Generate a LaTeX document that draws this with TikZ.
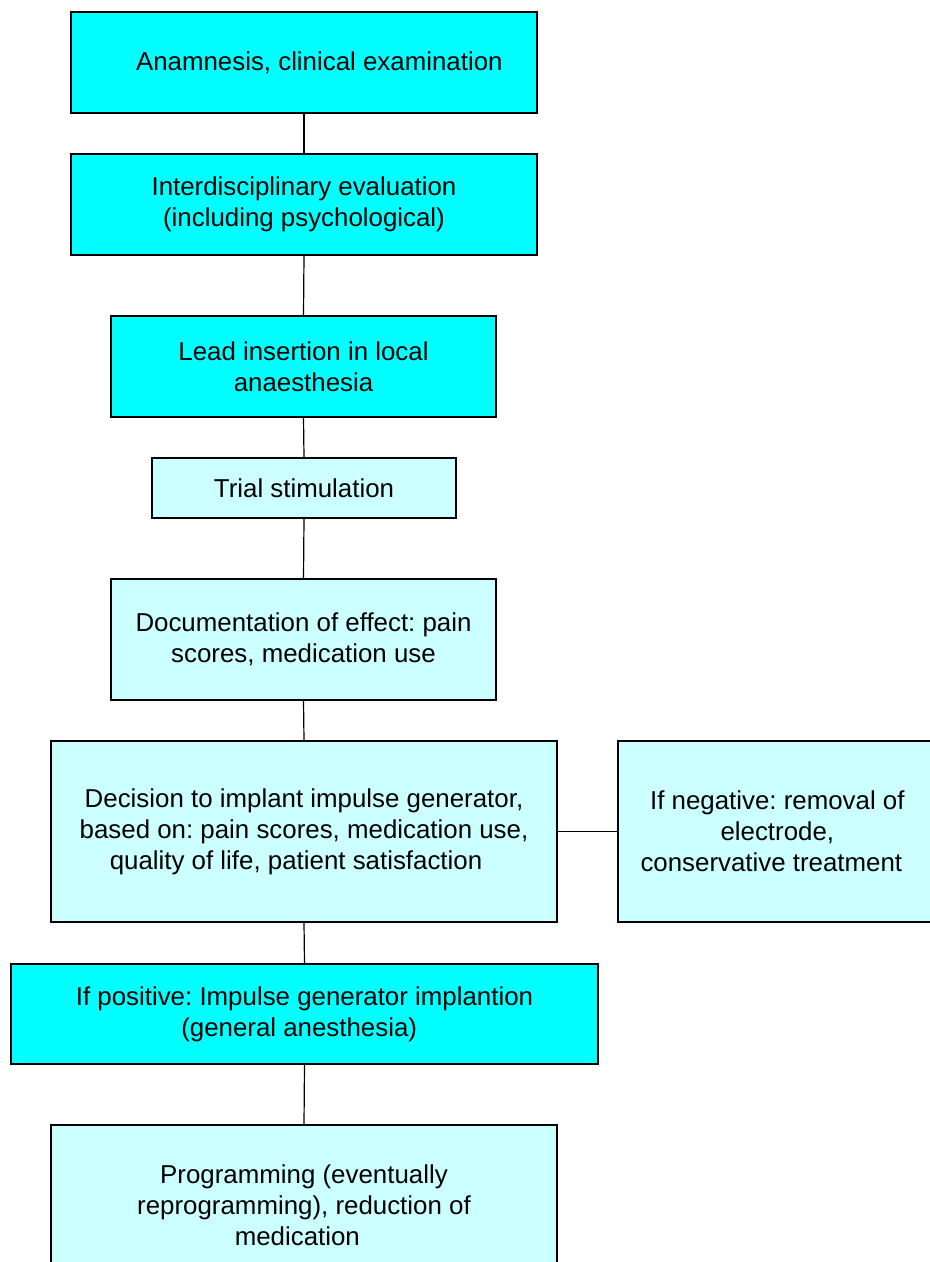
\documentclass[tikz,border=0pt]{standalone}
\usepackage{fontspec}
\setmainfont{Liberation Sans}
\frenchspacing
\definecolor{boxcyan}{HTML}{00FFFF}
\definecolor{boxlight}{HTML}{CCFFFF}
\tikzset{
  stagebox/.style={draw=black, line width=0.9pt, rectangle, inner sep=0pt, align=center,
    font=\fontsize{19.4}{23.2}\selectfont\frenchspacing},
  darkbox/.style={stagebox, fill=boxcyan},
  lightbox/.style={stagebox, fill=boxlight},
  link/.style={draw=black, line width=0.9pt}
}
\begin{document}
\begin{tikzpicture}[x=0.75pt, y=-0.75pt]
\useasboundingbox (0,0) rectangle (930,1262);
\fill[white] (0,0) rectangle (930,1262);
\node[darkbox, minimum width={466*0.75pt}, minimum height={101*0.75pt}] (b1) at (304,62.5)
  {\hspace*{23pt}Anamnesis, clinical examination};
\node[darkbox, minimum width={466*0.75pt}, minimum height={101*0.75pt}] (b2) at (304,204.5)
  {Interdisciplinary evaluation\\(including psychological)};
\node[darkbox, minimum width={385*0.75pt}, minimum height={101*0.75pt}] (b3) at (303.5,366.5)
  {Lead insertion in local\\anaesthesia};
\node[lightbox, minimum width={304*0.75pt}, minimum height={60*0.75pt}] (b4) at (304,488)
  {Trial stimulation};
\node[lightbox, minimum width={385*0.75pt}, minimum height={121*0.75pt}] (b5) at (303.5,639.5)
  {Documentation of effect: pain\\scores, medication use};
\node[lightbox, minimum width={506*0.75pt}, minimum height={181*0.75pt}] (b6) at (304,831.5)
  {Decision to implant impulse generator,\\based on: pain scores, medication use,\\quality of life, patient satisfaction\hspace*{12pt}};
\node[lightbox, minimum width={340*0.75pt}, minimum height={181*0.75pt}] (b7) at (788,831.5)
  {\hspace*{-16pt}If negative: removal of\\\hspace*{-16pt}electrode,\\conservative treatment\hspace*{25pt}};
\node[darkbox, minimum width={587*0.75pt}, minimum height={100*0.75pt}] (b8) at (304.5,1014)
  {If positive: Impulse generator implantion\\(general anesthesia)\hspace*{8pt}};
\node[lightbox, minimum width={506*0.75pt}, minimum height={160*0.75pt}] (b9) at (304,1205)
  {Programming (eventually\\reprogramming), reduction of\\medication\hspace*{10pt}};
\draw[link] (b1.south) -- (b2.north);
\draw[link] (b2.south) -- (b3.north);
\draw[link] (b3.south) -- (b4.north);
\draw[link] (b4.south) -- (b5.north);
\draw[link] (b5.south) -- (b6.north);
\draw[link] (b6.east) -- (b7.west);
\draw[link] (b6.south) -- (b8.north);
\draw[link] (b8.south) -- (b9.north);
\end{tikzpicture}
\end{document}
